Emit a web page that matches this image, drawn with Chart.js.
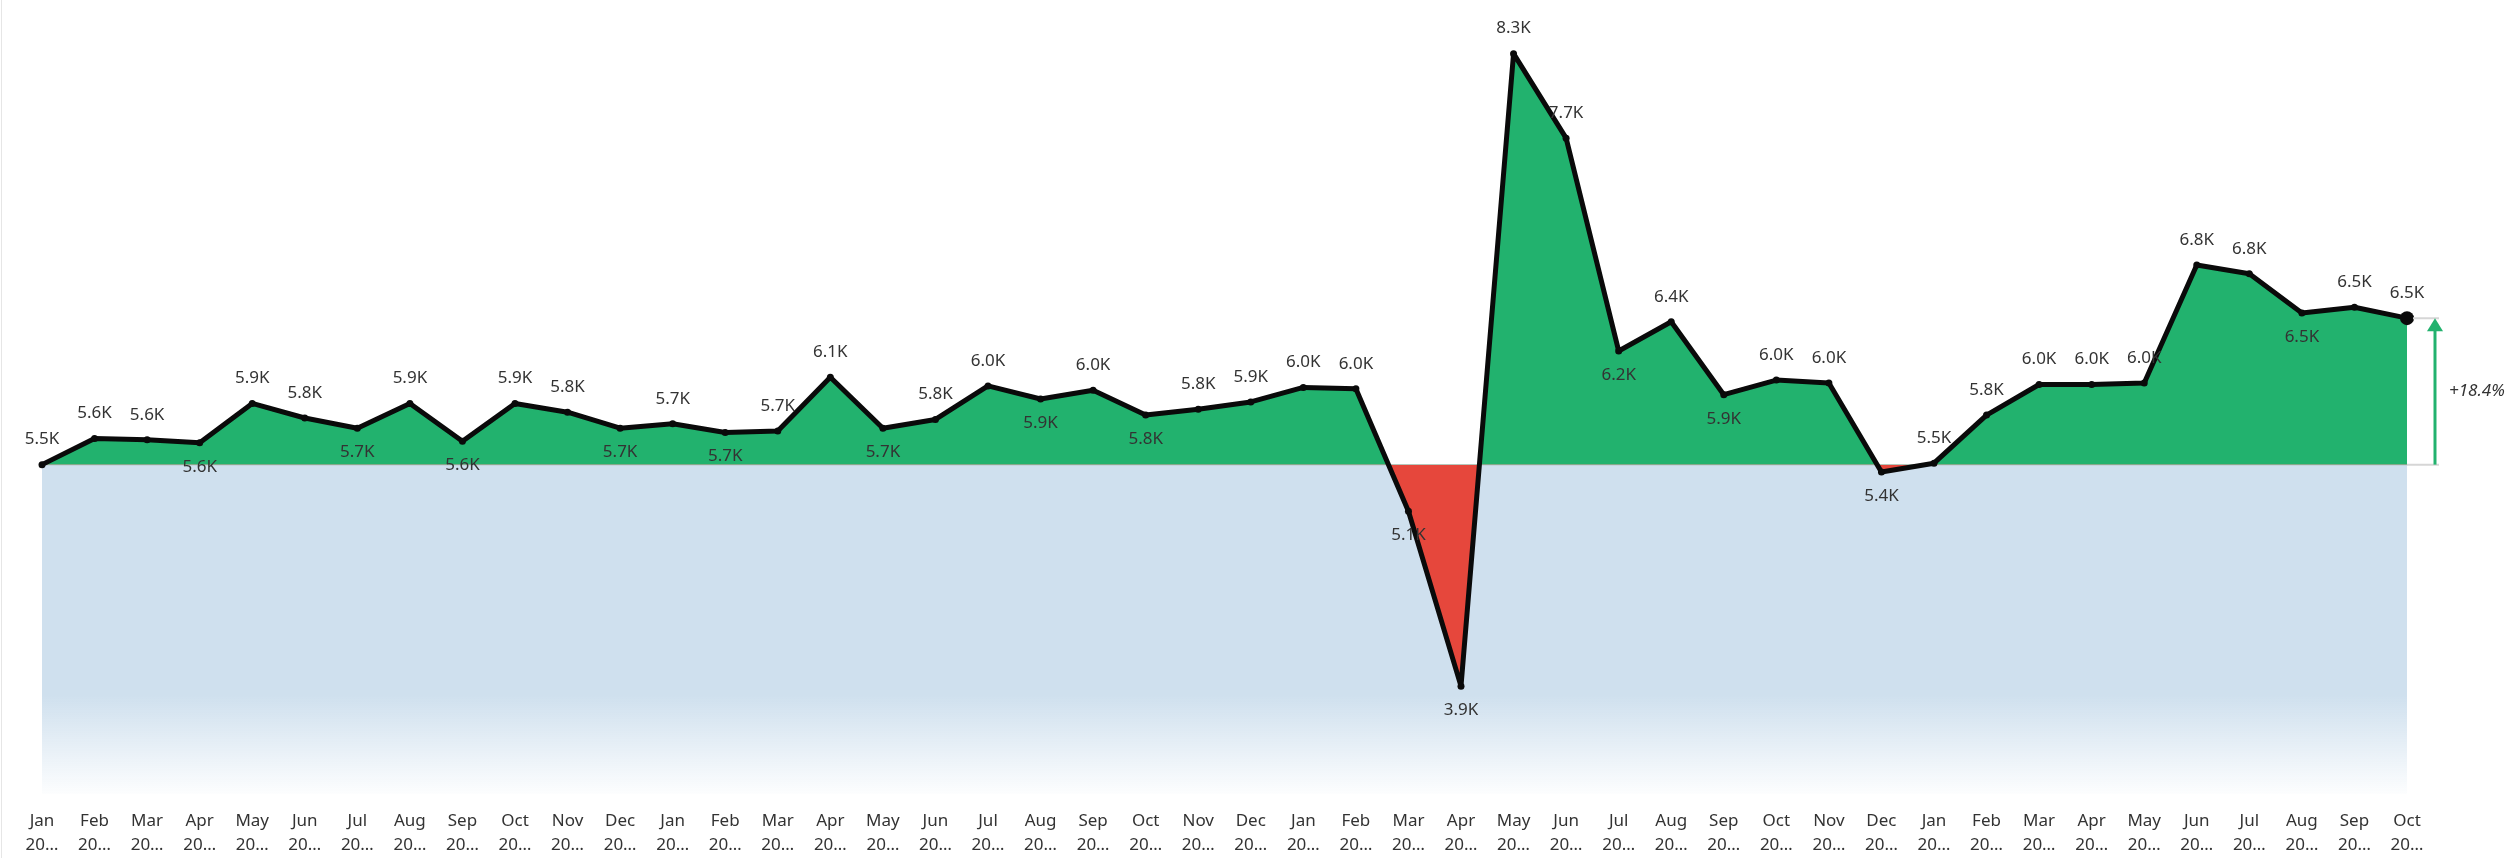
<!DOCTYPE html>
<html>
<head>
<meta charset="utf-8">
<script src="https://cdn.jsdelivr.net/npm/chart.js@4.4.1/dist/chart.umd.min.js"></script>
<style>
  html, body { margin: 0; padding: 0; background: #fff; }
  body { width: 2519px; height: 858px; overflow: hidden; position: relative; }
  #wrap { position: absolute; left: 0; top: 0; width: 2519px; height: 858px; }
  #edge { position: absolute; left: 1px; top: 0; width: 1px; height: 858px; background: #e6e6e6; }
</style>
</head>
<body>
<div id="wrap"><canvas id="c" width="2519" height="858"></canvas></div>
<div id="edge"></div>
<script>
// ---- data ----
const months = ['Jan','Feb','Mar','Apr','May','Jun','Jul','Aug','Sep','Oct','Nov','Dec',
                'Jan','Feb','Mar','Apr','May','Jun','Jul','Aug','Sep','Oct','Nov','Dec',
                'Jan','Feb','Mar','Apr','May','Jun','Jul','Aug','Sep','Oct','Nov','Dec',
                'Jan','Feb','Mar','Apr','May','Jun','Jul','Aug','Sep','Oct'];
const yearTick = '20…';
const values = [5460, 5640, 5630, 5610, 5880, 5780, 5710, 5880, 5620, 5880, 5820, 5710,
                5740, 5680, 5690, 6060, 5710, 5770, 6000, 5910, 5970, 5800, 5840, 5890,
                5990, 5980, 5140, 3940, 8280, 7700, 6240, 6440, 5940, 6040, 6020, 5410,
                5470, 5800, 6010, 6010, 6020, 6830, 6770, 6500, 6540, 6465];
const changeLabel = '+18.4%';
const yMin = 3200, yMax = 8600;

// ---- derived ----
const baseValue = values[0];
const baseline = values.map(() => baseValue);
const labels = months.map(m => [m, yearTick]);
const fmtK = v => (v / 1000).toFixed(1) + 'K';

const GREEN = '#22B26E', RED = '#E6473C', BLUE = '#CFE0EE';
const FONT = "'Segoe UI', 'Noto Sans', 'Open Sans', sans-serif";

const labelPlugin = {
  id: 'pointLabels',
  afterDatasetsDraw(chart) {
    const meta = chart.getDatasetMeta(0);
    const c = chart.ctx;
    c.save();
    c.font = '17px ' + FONT;
    c.fillStyle = '#333333';
    c.textAlign = 'center';
    c.textBaseline = 'middle';
    meta.data.forEach((pt, i) => {
      const v = values[i];
      const prev = i > 0 ? values[i - 1] : -Infinity;
      const next = i < values.length - 1 ? values[i + 1] : -Infinity;
      const below = (v < baseValue) || (v < prev && v < next);
      c.fillText(fmtK(v), pt.x, below ? pt.y + 24 : pt.y - 25);
    });
    c.restore();
  }
};

const changePlugin = {
  id: 'changeArrow',
  afterDraw(chart) {
    const c = chart.ctx;
    const meta = chart.getDatasetMeta(0);
    const last = meta.data[meta.data.length - 1];
    const y = chart.scales.y;
    const yTop = y.getPixelForValue(values[values.length - 1]);
    const yBase = y.getPixelForValue(baseValue);
    const ax = last.x + 28;
    c.save();
    c.strokeStyle = '#d6d6d6';
    c.lineWidth = 2;
    c.beginPath();
    c.moveTo(last.x + 6, yTop); c.lineTo(ax + 4, yTop);
    c.moveTo(last.x, yBase); c.lineTo(ax + 4, yBase);
    c.stroke();
    c.strokeStyle = GREEN;
    c.fillStyle = GREEN;
    c.lineWidth = 3;
    c.beginPath();
    c.moveTo(ax, yBase); c.lineTo(ax, yTop + 10);
    c.stroke();
    c.beginPath();
    c.moveTo(ax, yTop);
    c.lineTo(ax - 8, yTop + 13);
    c.lineTo(ax + 8, yTop + 13);
    c.closePath();
    c.fill();
    c.font = 'italic 17px ' + FONT;
    c.fillStyle = '#333';
    c.textAlign = 'left';
    c.textBaseline = 'middle';
    c.fillText(changeLabel, ax + 14, (yTop + yBase) / 2);
    c.restore();
  }
};

new Chart(document.getElementById('c'), {
  type: 'line',
  data: {
    labels: labels,
    datasets: [
      {
        data: values,
        borderColor: '#0a0a0a',
        borderWidth: 5,
        tension: 0,
        borderJoinStyle: 'round',
        pointRadius: ctx => ctx.dataIndex === values.length - 1 ? 7 : 3.5,
        pointBackgroundColor: '#0a0a0a',
        pointBorderWidth: 0,
        fill: { target: { value: baseValue }, above: GREEN, below: RED }
      },
      {
        data: baseline,
        borderColor: 'rgba(150,150,150,0.35)',
        borderWidth: 1.5,
        pointRadius: 0,
        fill: 'start',
        backgroundColor: (ctx) => {
          const ch = ctx.chart;
          const area = ch.chartArea;
          if (!area) return BLUE;
          const y0 = ch.scales.y.getPixelForValue(baseValue);
          const g = ch.ctx.createLinearGradient(0, y0, 0, area.bottom);
          g.addColorStop(0, BLUE);
          g.addColorStop(0.7, BLUE);
          g.addColorStop(1, 'rgba(207,224,238,0.05)');
          return g;
        }
      }
    ]
  },
  options: {
    responsive: false,
    animation: false,
    events: [],
    layout: { padding: { left: 42, right: 112, top: 5, bottom: 0 } },
    plugins: { legend: { display: false }, tooltip: { enabled: false } },
    scales: {
      x: {
        grid: { display: false, drawTicks: false },
        border: { display: false },
        ticks: {
          autoSkip: false, maxRotation: 0, minRotation: 0, padding: 15,
          color: '#333', font: { family: FONT, size: 17, lineHeight: 1.4 }
        },
        afterFit: s => { s.height = 64; }
      },
      y: { display: false, min: yMin, max: yMax }
    }
  },
  plugins: [labelPlugin, changePlugin]
});
</script>
</body>
</html>
